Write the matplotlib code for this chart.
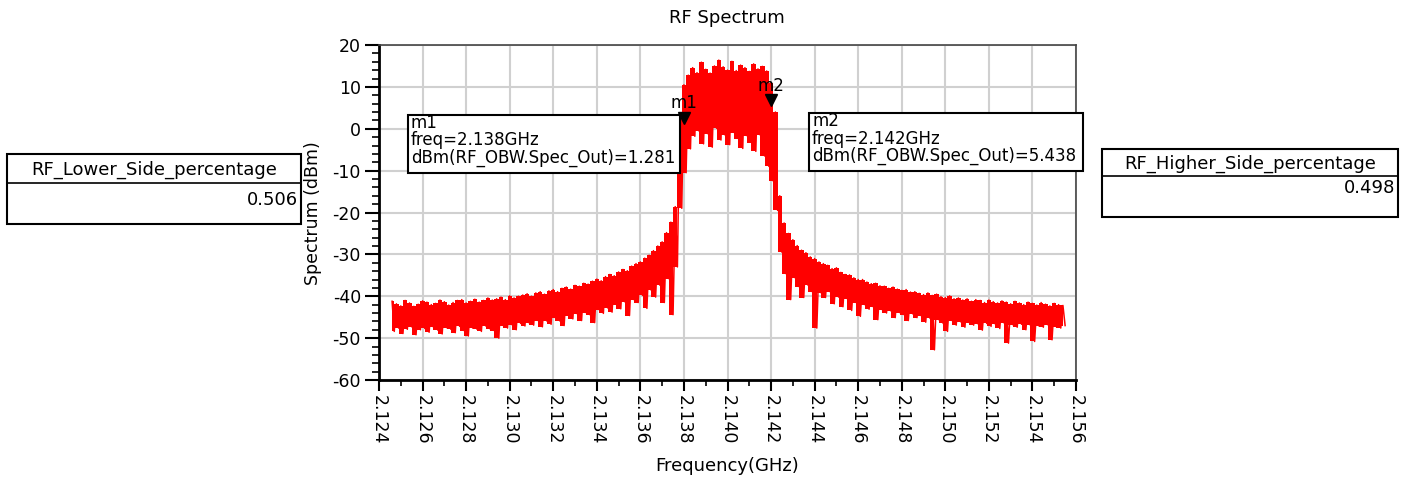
import numpy as np
import matplotlib
matplotlib.use("Agg")
import matplotlib.pyplot as plt
from matplotlib.patches import Rectangle
import matplotlib.transforms as mtransforms

plt.rcParams['font.family'] = ['DejaVu Sans']
plt.rcParams['axes.unicode_minus'] = False

# ---------------- data ----------------
freq_start_ghz = 2.1246
freq_step_ghz = 0.0002
# per-bin max / min of the displayed spectrum (dBm)
spec_hi = [
    -41.2, -41.8, -42.3, -41.0, -41.6, -42.4, -41.9, -41.1, -41.4, -42.0,
    -41.7, -40.9, -41.3, -42.1, -41.5, -41.0, -40.8, -41.6, -41.2, -40.7,
    -41.4, -41.0, -40.4, -40.9, -40.6, -40.2, -40.8, -39.9, -40.4, -40.0,
    -39.7, -39.4, -40.0, -39.2, -38.9, -39.5, -38.7, -38.4, -38.9, -38.1,
    -37.8, -38.3, -37.4, -37.6, -36.9, -37.1, -36.4, -35.9, -36.3, -35.3,
    -34.8, -35.1, -34.2, -33.6, -33.9, -32.8, -32.2, -31.8, -30.9, -30.2,
    -29.1, -28.0, -27.0, -24.8, -22.3, -18.6, 2.5, 10.5, 12.8, 14.6,
    13.4, 15.9, 14.2, 13.3, 15.0, 16.4, 14.8, 14.0, 16.1, 13.9,
    15.2, 14.6, 13.7, 15.5, 14.3, 14.9, 13.8, 11.0, 4.0, -16.0,
    -22.5, -25.0, -26.5, -27.9, -29.0, -29.6, -30.6, -31.0, -31.8, -32.2,
    -32.6, -33.4, -33.2, -34.3, -34.8, -34.9, -35.6, -36.0, -36.0, -36.6,
    -37.0, -36.9, -37.5, -37.6, -38.1, -37.8, -38.3, -38.6, -38.4, -39.0,
    -38.9, -39.3, -39.6, -39.2, -39.8, -39.5, -40.1, -40.3, -39.9, -40.6,
    -40.4, -40.9, -40.6, -41.2, -40.8, -41.0, -41.5, -40.9, -41.3, -41.6,
    -41.1, -41.4, -41.8, -41.2, -41.6, -42.0, -41.4, -41.7, -42.1, -41.5,
    -41.9, -42.3, -41.7, -42.0, -42.2,
]
spec_lo = [
    -48.4, -47.6, -48.9, -47.9, -47.3, -49.2, -48.0, -47.7, -48.6, -47.4,
    -48.1, -49.0, -47.5, -47.9, -48.7, -47.2, -48.2, -49.5, -47.6, -47.9,
    -48.4, -47.1, -47.8, -48.3, -50.0, -47.0, -47.6, -46.8, -48.0, -46.5,
    -47.1, -46.4, -46.9, -45.8, -47.3, -45.9, -46.7, -45.2, -45.9, -47.0,
    -44.6, -45.4, -44.2, -45.8, -43.9, -44.5, -46.3, -43.2, -44.1, -42.8,
    -43.8, -42.0, -43.0, -41.4, -44.6, -40.8, -41.5, -39.8, -42.9, -38.6,
    -40.2, -37.4, -41.5, -35.8, -44.4, -33.0, -19.0, -10.5, -4.8, -1.8,
    -0.6, -3.6, -1.2, -4.4, 0.1, -2.7, -1.6, -3.8, -0.9, -2.4,
    -4.7, -1.7, -3.3, -5.4, -1.5, -6.5, -9.0, -12.5, -19.5, -29.5,
    -34.7, -40.8, -35.6, -37.8, -40.3, -37.4, -39.0, -47.6, -39.2, -40.3,
    -38.9, -41.8, -40.2, -42.5, -40.6, -43.4, -41.5, -44.8, -42.0, -43.1,
    -42.6, -45.6, -43.2, -44.0, -43.5, -45.1, -43.9, -44.4, -45.8, -44.2,
    -45.1, -44.7, -46.2, -45.3, -52.8, -45.6, -46.5, -48.4, -45.8, -46.9,
    -46.1, -47.4, -46.3, -46.9, -46.6, -48.1, -46.5, -47.2, -46.7, -47.7,
    -46.4, -51.2, -46.8, -47.4, -46.7, -48.0, -46.9, -50.8, -47.1, -47.4,
    -46.8, -50.4, -47.3, -47.6, -47.0,
]
marker_names = ["m1", "m2"]
marker_freq = [2.138, 2.142]
marker_dbm = [1.281, 5.438]
lower_side_pct = 0.506
higher_side_pct = 0.498
x_ticks = [2.124, 2.126, 2.128, 2.130, 2.132, 2.134, 2.136, 2.138, 2.140,
           2.142, 2.144, 2.146, 2.148, 2.150, 2.152, 2.154, 2.156]
y_ticks = [-60, -50, -40, -30, -20, -10, 0, 10, 20]

# ---------------- figure ----------------
W, H = 1405, 487
fig = plt.figure(figsize=(W / 100, H / 100), dpi=100)
fig.patch.set_facecolor('white')

def fx(px):
    return px / W

def fy(py):
    return 1 - py / H

ax = fig.add_axes([fx(379), fy(380), fx(1076 - 379), (380 - 45) / H])

freq = freq_start_ghz + freq_step_ghz * np.arange(len(spec_hi))
hi = np.array(spec_hi)
lo = np.array(spec_lo)

red = '#ff0000'
ax.fill_between(freq, lo, hi, step='mid', color=red, linewidth=0, zorder=3)
zx = np.empty(2 * len(freq))
zy = np.empty(2 * len(freq))
zx[0::2] = freq
zx[1::2] = freq + freq_step_ghz / 2
zy[0::2] = hi
zy[1::2] = lo
ax.plot(zx, zy, color=red, linewidth=1.1, zorder=3)

ax.set_xlim(2.124, 2.156)
ax.set_ylim(-60, 20)
ax.set_xticks(x_ticks)
ax.set_xticklabels([f"{v:.3f}" for v in x_ticks], rotation=-90, fontsize=12.5)
ax.set_xticks(np.arange(2.125, 2.156, 0.002), minor=True)
ax.set_yticks(y_ticks)
ax.set_yticklabels([str(v) for v in y_ticks], fontsize=12.5)
ax.set_yticks(np.arange(-58, 20, 2), minor=True)
ax.tick_params(axis='y', which='major', direction='out', length=10, width=1.5, pad=3)
ax.tick_params(axis='y', which='minor', direction='out', length=5, width=1.2)
ax.tick_params(axis='x', which='major', direction='out', length=8, width=1.5, pad=3)
ax.tick_params(axis='x', which='minor', direction='out', length=4, width=1.2)
ax.grid(True, which='major', color='#d0d0d0', linewidth=1.5)
ax.set_axisbelow(True)
for s in ['left', 'bottom']:
    ax.spines[s].set_linewidth(2.0)
    ax.spines[s].set_color('black')
for s in ['top', 'right']:
    ax.spines[s].set_linewidth(1.2)
    ax.spines[s].set_color('#444444')

# markers
for name, f, v in zip(marker_names, marker_freq, marker_dbm):
    tr = mtransforms.offset_copy(ax.transData, fig=fig, x=0, y=5.5, units='dots')
    ax.plot([f], [v], marker='v', markersize=8.5, color='black',
            transform=tr, zorder=5, clip_on=False)
    ax.annotate(name, xy=(f, v), xytext=(0, 15), textcoords='offset pixels',
                ha='center', va='baseline', fontsize=12, zorder=6)

# marker readout boxes
def readout(x0, y0, x1, y1, lines):
    fig.patches.append(Rectangle((fx(x0), fy(y1)), fx(x1 - x0), (y1 - y0) / H,
                                 transform=fig.transFigure, facecolor='white',
                                 edgecolor='black', linewidth=1.5, zorder=10))
    for i, t in enumerate(lines):
        fig.text(fx(x0 + 3), fy(y0 + 8 + 17.5 * i), t, ha='left', va='center',
                 fontsize=12, zorder=11)

readout(408, 115, 680, 173,
        [marker_names[0], f"freq={marker_freq[0]:.3f}GHz",
         f"dBm(RF_OBW.Spec_Out)={marker_dbm[0]:.3f}"])
readout(809, 113, 1083, 171,
        [marker_names[1], f"freq={marker_freq[1]:.3f}GHz",
         f"dBm(RF_OBW.Spec_Out)={marker_dbm[1]:.3f}"])

# side tables
def table(x0, y0, x1, y1, ydiv, title, value, yv):
    fig.patches.append(Rectangle((fx(x0), fy(y1)), fx(x1 - x0), (y1 - y0) / H,
                                 transform=fig.transFigure, facecolor='white',
                                 edgecolor='black', linewidth=1.5, zorder=10))
    fig.lines.append(plt.Line2D([fx(x0), fx(x1)], [fy(ydiv), fy(ydiv)],
                                transform=fig.transFigure, color='black',
                                linewidth=1.2, zorder=11))
    fig.text(fx((x0 + x1) / 2), fy((y0 + ydiv) / 2 + 1), title, ha='center',
             va='center', fontsize=13, zorder=12)
    fig.text(fx(x1 - 3), fy(yv), f"{value:.3f}", ha='right', va='center',
             fontsize=13, zorder=12)

table(7, 154, 301, 224, 183, "RF_Lower_Side_percentage", lower_side_pct, 200)
table(1102, 149, 1398, 217, 176, "RF_Higher_Side_percentage", higher_side_pct, 188)

# titles
fig.text(fx(727), fy(18), "RF Spectrum", ha='center', va='center', fontsize=13)
fig.text(fx(313), fy(213), "Spectrum (dBm)", ha='center', va='center',
         rotation=90, fontsize=12.5)
fig.text(fx(727), fy(466), "Frequency(GHz)", ha='center', va='center', fontsize=13)

fig.savefig("out.png", dpi=100)
